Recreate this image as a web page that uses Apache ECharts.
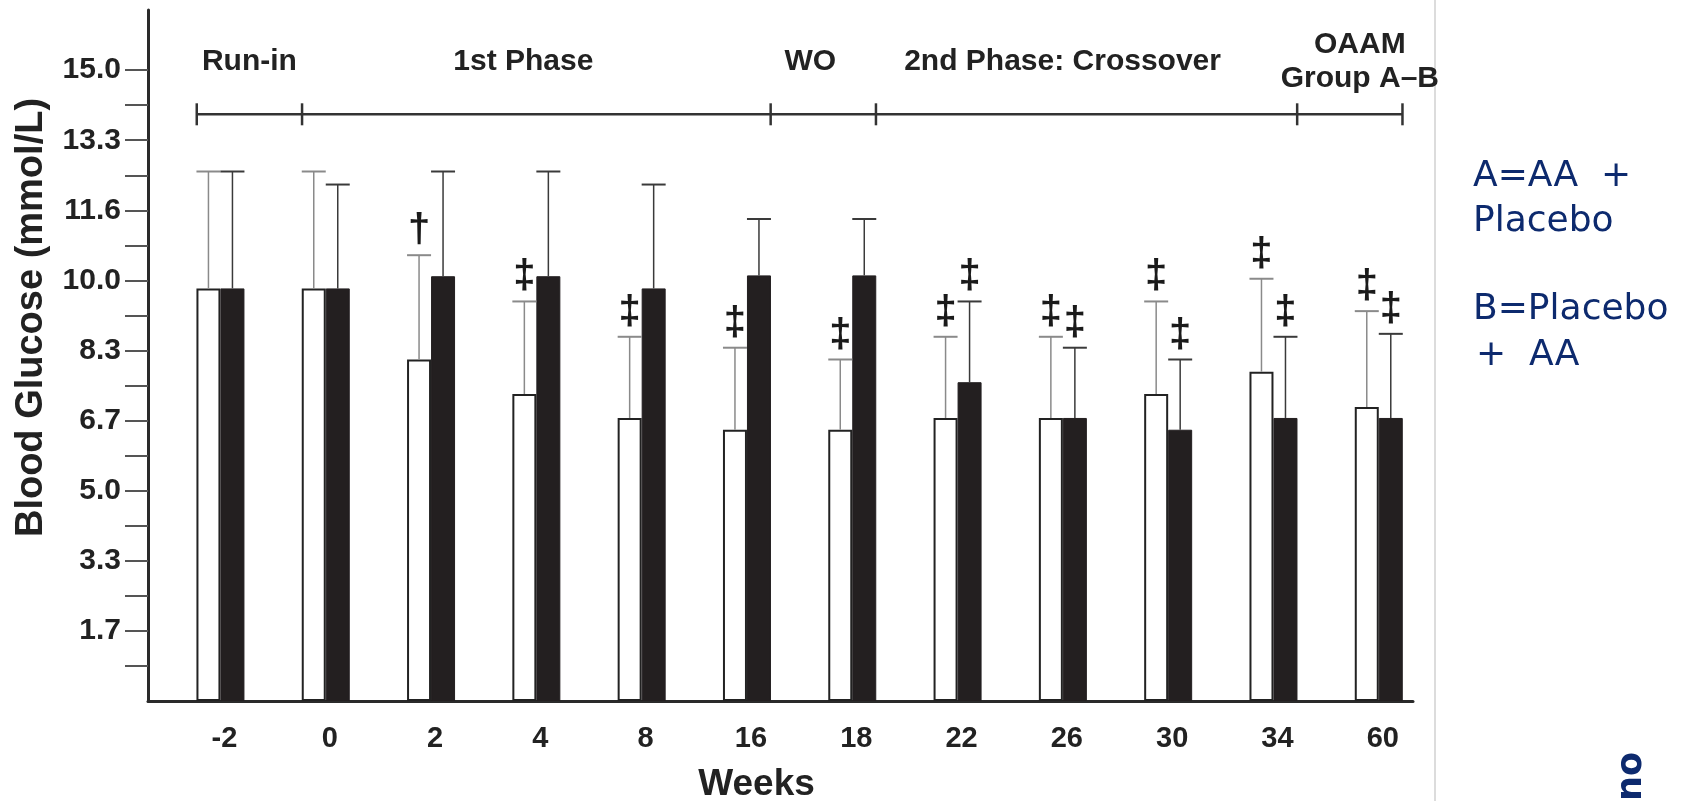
<!DOCTYPE html>
<html>
<head>
<meta charset="utf-8">
<script src="https://cdn.jsdelivr.net/npm/echarts@6/dist/echarts.min.js"></script>
<style>
html,body{margin:0;padding:0;background:#fff;}
#chart{width:1689px;height:801px;}
</style>
</head>
<body>
<div id="chart"></div>
<script>
// ---- data ----
const weeks = ['-2', '0', '2', '4', '8', '16', '18', '22', '26', '30', '34', '60'];
const groupA = [9.81, 9.81, 8.12, 7.30, 6.73, 6.45, 6.45, 6.73, 6.73, 7.30, 7.83, 6.99];   // white bars
const groupB = [9.81, 9.81, 10.10, 10.10, 9.81, 10.12, 10.12, 7.58, 6.73, 6.45, 6.73, 6.73]; // black bars
const errTopA = [12.59, 12.59, 10.60, 9.50, 8.66, 8.40, 8.12, 8.66, 8.66, 9.50, 10.04, 9.27];
const errTopB = [12.59, 12.28, 12.59, 12.59, 12.28, 11.46, 11.46, 9.50, 8.40, 8.12, 8.66, 8.73];
const markA = ['', '', '\u2020', '\u2021', '\u2021', '\u2021', '\u2021', '\u2021', '\u2021', '\u2021', '\u2021', '\u2021'];
const markB = ['', '', '', '', '', '', '', '\u2021', '\u2021', '\u2021', '\u2021', '\u2021'];
const yTickValues = [5/3, 10/3, 5, 20/3, 25/3, 10, 35/3, 40/3, 15];
const yTickLabels = ['1.7', '3.3', '5.0', '6.7', '8.3', '10.0', '11.6', '13.3', '15.0'];
const phases = ['Run-in', '1st Phase', 'WO', '2nd Phase: Crossover', 'OAAM\nGroup A\u2013B'];
const phaseBounds = [-0.225, 0.775, 5.225, 6.225, 10.225, 11.225];

// ---- layout / style constants ----
const phaseNudge = [0, -13, -13, -24, 10];
const bracketLevel = 13.95;
const labelLevel = 15.2;
const BAR_W = 24;
const FONT = '"Liberation Sans", Arial, sans-serif';

const minorTicks = [];
for (let k = 1; k <= 18; k++) minorTicks.push(k * 5 / 6);

function makeErr(side, marks, color) {
  return function (params, api) {
    const i = api.value(0);
    const top = api.coord([i, api.value(2)]);
    const mid = api.coord([i, api.value(1)]);
    const cx = top[0] + side;
    const children = [
      {type: 'line', shape: {x1: cx, y1: mid[1], x2: cx, y2: top[1]}, style: {stroke: color, lineWidth: 1.5}},
      {type: 'line', shape: {x1: cx - 12, y1: top[1], x2: cx + 12, y2: top[1]}, style: {stroke: color, lineWidth: 2}}
    ];
    const m = marks[params.dataIndex];
    if (m) {
      children.push({type: 'text', x: cx, y: top[1] - 4,
        style: {text: m, fill: '#1a1a1a', font: 'bold 40px ' + FONT, align: 'center', verticalAlign: 'bottom'}});
    }
    return {type: 'group', children: children};
  };
}

const chart = echarts.init(document.getElementById('chart'));
chart.setOption({
  animation: false,
  textStyle: {fontFamily: FONT},
  grid: {left: 148, right: 276, top: 10, bottom: 100, containLabel: false, outerBoundsMode: 'none'},
  xAxis: {
    type: 'value', min: -0.688, max: 11.325,
    splitLine: {show: false},
    axisLine: {show: true, onZero: false, lineStyle: {color: '#2a2a2a', width: 3}},
    axisTick: {show: false},
    axisLabel: {
      customValues: weeks.map((w, i) => i),
      formatter: v => weeks[Math.round(v)],
      fontSize: 29, fontWeight: 'bold', color: '#222', margin: 23, padding: [0, 0, 0, 8]
    },
    name: 'Weeks', nameLocation: 'middle', nameGap: 65,
    nameTextStyle: {fontSize: 37, fontWeight: 'bold', color: '#222', padding: [0, 48, 0, 0]}
  },
  yAxis: {
    type: 'value', min: 0, max: 16.43,
    splitLine: {show: false},
    axisLine: {show: true, onZero: false, lineStyle: {color: '#2a2a2a', width: 3}},
    axisTick: {show: true, customValues: minorTicks, length: 23, lineStyle: {color: '#555', width: 2}},
    axisLabel: {
      customValues: yTickValues,
      formatter: v => yTickLabels[Math.round(v / (5 / 3)) - 1],
      fontSize: 30, fontWeight: 'bold', color: '#222', margin: 27
    },
    name: 'Blood Glucose (mmol/L)', nameLocation: 'middle', nameGap: 97,
    nameTextStyle: {fontSize: 38, fontWeight: 'bold', color: '#222', padding: [0, 0, 0, 76]}
  },
  series: [
    {
      type: 'bar', name: 'A', data: groupA.map((v, i) => [i, v]),
      barWidth: BAR_W, barGap: '0%',
      itemStyle: {color: '#fff', borderColor: '#222', borderWidth: 2}, z: 2
    },
    {
      type: 'bar', name: 'B', data: groupB.map((v, i) => [i, v]),
      barWidth: BAR_W, barGap: '0%',
      itemStyle: {color: '#231f20', borderColor: '#231f20', borderWidth: 1}, z: 2
    },
    {
      type: 'custom', name: 'errA', z: 4, clip: false,
      data: groupA.map((v, i) => [i, v, errTopA[i]]),
      encode: {x: 0, y: 2},
      renderItem: makeErr(-BAR_W / 2, markA, '#8a8a8a')
    },
    {
      type: 'custom', name: 'errB', z: 4, clip: false,
      data: groupB.map((v, i) => [i, v, errTopB[i]]),
      encode: {x: 0, y: 2},
      renderItem: makeErr(BAR_W / 2, markB, '#3a3a3a')
    },
    {
      type: 'custom', name: 'phases', z: 4, clip: false,
      data: [[phaseBounds[0], bracketLevel]],
      encode: {x: 0, y: 1},
      renderItem: function (params, api) {
        const y = api.coord([0, bracketLevel])[1];
        const ly = api.coord([0, labelLevel])[1];
        const xs = phaseBounds.map(b => api.coord([b, bracketLevel])[0]);
        const children = [
          {type: 'line', shape: {x1: xs[0], y1: y, x2: xs[xs.length - 1], y2: y}, style: {stroke: '#333', lineWidth: 2.5}}
        ];
        xs.forEach(x => children.push({type: 'line', shape: {x1: x, y1: y - 11, x2: x, y2: y + 11}, style: {stroke: '#333', lineWidth: 2.5}}));
        phases.forEach((p, k) => {
          children.push({type: 'text', x: (xs[k] + xs[k + 1]) / 2 + phaseNudge[k], y: ly,
            style: {text: p, fill: '#222', font: 'bold 30px ' + FONT, align: 'center', verticalAlign: 'middle', lineHeight: 34}});
        });
        return {type: 'group', children: children};
      }
    }
  ],
  graphic: [
    {type: 'line', shape: {x1: 1435, y1: 0, x2: 1435, y2: 801}, style: {stroke: '#dcdcdc', lineWidth: 2}},
    {type: 'text', x: 1473, y: 177, style: {text: 'A=AA  +', font: '36px "DejaVu Sans", sans-serif', fill: '#0d2a6e', verticalAlign: 'middle'}},
    {type: 'text', x: 1473, y: 222, style: {text: 'Placebo', font: '36px "DejaVu Sans", sans-serif', fill: '#0d2a6e', verticalAlign: 'middle'}},
    {type: 'text', x: 1473, y: 310, style: {text: 'B=Placebo', font: '36px "DejaVu Sans", sans-serif', fill: '#0d2a6e', verticalAlign: 'middle'}},
    {type: 'text', x: 1476, y: 356, style: {text: '+  AA', font: '36px "DejaVu Sans", sans-serif', fill: '#0d2a6e', verticalAlign: 'middle'}},
    {type: 'text', x: 1632, y: 801, rotation: Math.PI / 2, style: {text: 'no', font: 'bold 35px "DejaVu Sans", sans-serif', fill: '#0d2a6e', align: 'left', verticalAlign: 'middle'}}
  ]
});
</script>
</body>
</html>
